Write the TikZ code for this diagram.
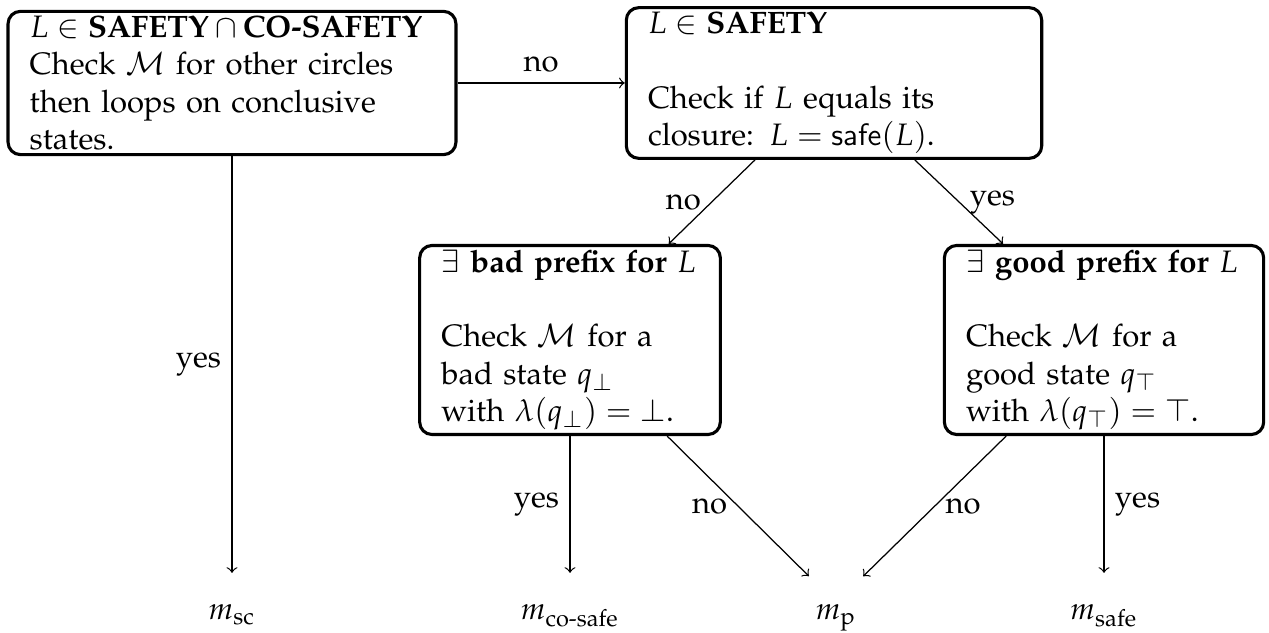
\documentclass[tikz,border=0pt]{standalone}
\usepackage[T1]{fontenc}
\usepackage{mathpazo}
\usepackage{amsmath}
\usepackage{tikz}

\begin{document}
\begin{tikzpicture}[x=0.3226pt, y=-0.3226pt]
    % settings for this picture
    \tikzset{
      block/.style={draw, line width=1pt, rounded corners=4pt, align=left,
                    inner xsep=7pt, inner ysep=1.5pt},
      monitor/.style={anchor=base, inner sep=2pt, text height=13pt, text depth=2pt},
      flow/.style={->},
    }
    \useasboundingbox (0,0) rectangle (1269,633);

    % checks
    \node[block, text width=130.5pt] at (232,83) (safeco)
      {$L \in \textbf{SAFETY} \cap \textbf{CO-SAFETY}$\\
       Check $\mathcal{M}$ for other circles\\
       then loops on conclusive\\
       states.};
    \node[block, text width=120pt] at (834,83) (safe)
      {$L \in \textbf{SAFETY}$\\[12pt]
       Check if $L$ equals its\\
       closure: $L = \mathsf{safe}(L)$.};
    \node[block, text width=83pt] at (570,340) (bad)
      {$\exists$ \textbf{bad prefix for} $L$\\[12pt]
       Check $\mathcal{M}$ for a\\
       bad state $q_\bot$\\
       with $\lambda(q_\bot) = \bot$.};
    \node[block, text width=89pt] at (1104,340) (good)
      {$\exists$ \textbf{good prefix for} $L$\\[12pt]
       Check $\mathcal{M}$ for a\\
       good state $q_\top$\\
       with $\lambda(q_\top) = \top$.};

    % monitors
    \node[monitor] at (232,620) (msc) {$m_{\text{sc}}$};
    \node[monitor] at (570,620) (mcosafe) {$m_{\text{co-safe}}$};
    \node[monitor] at (836,620) (mp) {$m_{\text{p}}$};
    \node[monitor] at (1104,620) (msafe) {$m_{\text{safe}}$};

    % answers
    \draw[flow] (safeco) -- node[above]{no} (safe);
    \draw[flow] (safeco) -- node[left]{yes} (msc);
    \draw[flow] (safe) -- node[left]{no} (bad);
    \draw[flow] (safe) -- node[right]{yes} (good);
    \draw[flow] (bad) -- node[left]{yes} (mcosafe);
    \draw[flow] (bad) -- node[left]{no} (mp);
    \draw[flow] (good) -- node[right]{no} (mp);
    \draw[flow] (good) -- node[right]{yes} (msafe);

\end{tikzpicture}
\end{document}
